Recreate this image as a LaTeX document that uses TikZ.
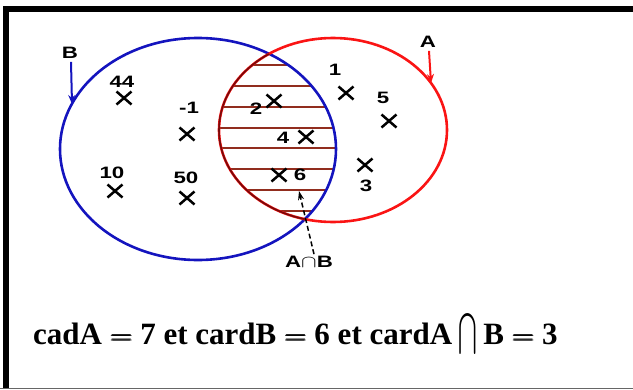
\documentclass[tikz,border=0pt]{standalone}
\usepackage{amsmath}
\usepackage{graphicx}
\usepackage{fontspec}
\setmainfont{Liberation Serif}
\newfontfamily\lab{Liberation Sans}
\usetikzlibrary{arrows.meta}
\definecolor{bblue}{RGB}{20,20,190}
\definecolor{rred}{RGB}{250,20,20}
\definecolor{hbrown}{RGB}{145,45,30}
\definecolor{ddred}{RGB}{120,10,10}
\newcommand{\wlab}[1]{\scalebox{1.35}[1]{#1}}
\newcommand{\weq}{\hspace{0.28em}\scalebox{1.25}[1]{$\pmb{=}$}\hspace{0.23em}}
\newcommand{\wcap}{\hspace{0.2em}\scalebox{0.9}[1.65]{$\bigcap$}\hspace{0.2em}}
\begin{document}
\begin{tikzpicture}[x=1pt,y=-1pt,
  cross/.style={line width=2.5pt},
  num/.style={font=\lab\bfseries\fontsize{16.5}{16.5}\selectfont, inner sep=0pt},
  setarrow/.style={line width=2pt,-{Stealth[length=9pt,width=7pt]}}]
\useasboundingbox (0,0) rectangle (633,389);
% frame
\draw[line width=6pt] (6,389) -- (6,9) -- (633,9);
\draw[line width=1pt, gray!80!black] (0,388) -- (633,388);
% hatching in intersection
\begin{scope}
  \clip (198,149) ellipse [x radius=138, y radius=111];
  \clip (333,130) ellipse [x radius=114, y radius=92];
  \foreach \yy in {65,86,107,128,148,169,190,211}
    \draw[hbrown, line width=2.6pt] (200,\yy) -- (350,\yy);
\end{scope}
% circles
\draw[bblue, line width=2.6pt] (198,149) ellipse [x radius=138, y radius=111];
\draw[rred, line width=2.6pt] (333,130) ellipse [x radius=114, y radius=92];
\begin{scope}
  \clip (198,149) ellipse [x radius=138, y radius=111];
  \draw[ddred, line width=1.6pt] (333,130) ellipse [x radius=114, y radius=92];
\end{scope}
% set labels
\node[num] (B) at (70,53) {\wlab{B}};
\coordinate (Bend) at (72,104);
\draw[setarrow, bblue] (B.south) ++(1,3) -- (Bend);
\node[num] (A) at (428,42) {\wlab{A}};
\coordinate (Aend) at (431,83);
\draw[setarrow, rred] (A.south) ++(1,3) -- (Aend);
% crosses
\foreach \n/\cx/\cy in {c44/124/98, cm1/187/134, c10/115/191, c50/187/198, c2/274/101, c4/306/137, c6/279/175, c1/346/93, c5/389/121, c3/365/165}{
  \coordinate (\n) at (\cx,\cy);
  \draw[cross] (\cx-7.5,\cy-6.5) -- (\cx+7.5,\cy+6.5) (\cx-7.5,\cy+6.5) -- (\cx+7.5,\cy-6.5);
}
\node[num] (t44) at (122,82) {\wlab{44}};
\node[num] (tm1) at (189,108) {\wlab{-1}};
\node[num] (t10) at (112,173) {\wlab{10}};
\node[num] (t50) at (186,178) {\wlab{50}};
\node[num] (t2) at (256,109) {\wlab{2}};
\node[num] (t4) at (283,138) {\wlab{4}};
\node[num] (t6) at (300,175) {\wlab{6}};
\node[num] (t1) at (335,70) {\wlab{1}};
\node[num] (t5) at (383,98) {\wlab{5}};
\node[num] (t3) at (366,186) {\wlab{3}};
% intersection label
\node[num] (AB) at (309,262) {\wlab{A$\cap$B}};
\coordinate (ABend) at (299,191);
\draw[line width=1.5pt, dash pattern=on 5pt off 3pt, -{Stealth[length=9pt,width=6pt]}] (AB.north) ++(5,-2) -- (ABend);
% bottom text
\node[font=\bfseries\fontsize{31}{31}\selectfont, anchor=base west, inner sep=0pt] (txt) at (33,344)
  {cadA\weq 7 et cardB\weq 6 et cardA\wcap B\weq 3};
\end{tikzpicture}
\end{document}
